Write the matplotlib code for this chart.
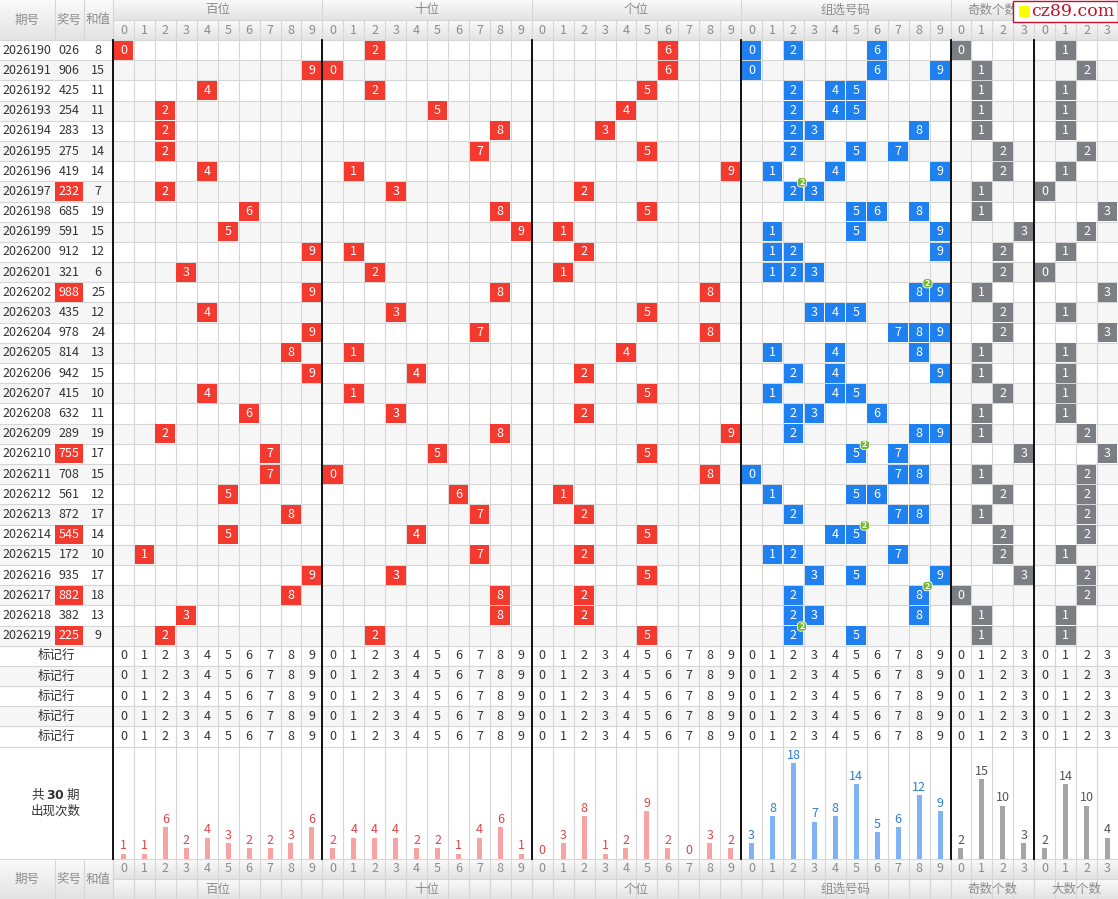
"""Trend chart of the last 30 draws (digit positions, group digits, odd/big counts)."""

import matplotlib
matplotlib.use('Agg')
from matplotlib import pyplot
from matplotlib.colors import LinearSegmentedColormap
from matplotlib.patches import Rectangle, FancyBboxPatch
import numpy

# Data.
periods = ['2026190', '2026191', '2026192', '2026193', '2026194', '2026195',
           '2026196', '2026197', '2026198', '2026199', '2026200', '2026201',
           '2026202', '2026203', '2026204', '2026205', '2026206', '2026207',
           '2026208', '2026209', '2026210', '2026211', '2026212', '2026213',
           '2026214', '2026215', '2026216', '2026217', '2026218', '2026219']
draws = ['026', '906', '425', '254', '283', '275', '419', '232', '685', '591',
         '912', '321', '988', '435', '978', '814', '942', '415', '632', '289',
         '755', '708', '561', '872', '545', '172', '935', '882', '382', '225']
sums = [8, 15, 11, 11, 13, 14, 14, 7, 19, 15, 12, 6, 25, 12, 24, 13, 15, 10,
        11, 19, 17, 15, 12, 17, 14, 10, 17, 18, 13, 9]

count_hundreds = [1, 1, 6, 2, 4, 3, 2, 2, 3, 6]
count_tens = [2, 4, 4, 4, 2, 2, 1, 4, 6, 1]
count_units = [0, 3, 8, 1, 2, 9, 2, 0, 3, 2]
count_group = [3, 8, 18, 7, 8, 14, 5, 6, 12, 9]
count_odd = [2, 15, 10, 3]
count_big = [2, 14, 10, 4]

group_names = ['百位', '十位', '个位', '组选号码', '奇数个数', '大数个数']
group_sizes = [10, 10, 10, 10, 4, 4]
n_marks = 5

# Layout (pixels).
W, H = 1118, 899
left_edges = [0, 54.5, 83.5, 113]
X0 = 113
CW = (W - X0) / 48
Y0 = 40
RH = 20.19
STATS_BOTTOM = 859
FOOT = 20
BAR_SCALE = 5.33

red = '#f4392e'
blue = '#1f80f0'
grey = '#7b7e82'
grid = '#d6d6d6'

pyplot.rcParams['font.family'] = ['Noto Sans CJK SC', 'DejaVu Sans']
fig = pyplot.figure(figsize=(W / 100, H / 100), dpi=100)
ax = fig.add_axes([0, 0, 1, 1])

group_start = numpy.cumsum([0] + group_sizes)


def cx(col):
    return X0 + col * CW


def row_top(i):
    return Y0 + i * RH


# Header and footer backgrounds (vertical gradients).
cmap = LinearSegmentedColormap.from_list('head', ['#fafafa', '#e3e3e3'])
grad = numpy.linspace(0, 1, 50)[:, None]
for (y1, y2) in [(0, 20), (20, 40), (0, 40)]:
    x1 = X0 if y2 - y1 == 20 else 0
    x2 = W if y2 - y1 == 20 else X0
    ax.imshow(grad, extent=(x1, x2, y2, y1), cmap=cmap, aspect='auto',
              zorder=0)
for (y1, y2) in [(STATS_BOTTOM, STATS_BOTTOM + FOOT),
                 (STATS_BOTTOM + FOOT, H)]:
    ax.imshow(grad, extent=(X0, W, y2, y1), cmap=cmap, aspect='auto',
              zorder=0)
ax.imshow(grad, extent=(0, X0, H, STATS_BOTTOM), cmap=cmap, aspect='auto',
          zorder=0)

# Alternate row shading.
n_rows = len(periods) + n_marks
for i in range(n_rows):
    if i % 2 == 1:
        ax.add_patch(Rectangle((0, row_top(i)), W, RH, color='#f6f6f6',
                               lw=0, zorder=0.5))

# Grid lines.
for i in range(n_rows + 1):
    ax.plot([0, W], [row_top(i)] * 2, color=grid, lw=0.8, zorder=1)
ax.plot([X0, W], [20, 20], color=grid, lw=0.8, zorder=1)
ax.plot([X0, W], [STATS_BOTTOM + FOOT] * 2, color=grid, lw=0.8, zorder=1)
ax.plot([0, W], [STATS_BOTTOM] * 2, color=grid, lw=0.8, zorder=1)
for c in range(48):
    ax.plot([cx(c)] * 2, [20, H], color=grid, lw=0.8, zorder=1)
for x in left_edges[1:]:
    ax.plot([x, x], [0, Y0], color=grid, lw=0.8, zorder=1)
    ax.plot([x, x], [STATS_BOTTOM, H], color=grid, lw=0.8, zorder=1)
for s in group_start[1:-1]:
    ax.plot([cx(s)] * 2, [0, 20], color=grid, lw=0.8, zorder=1)
    ax.plot([cx(s)] * 2, [STATS_BOTTOM + FOOT, H], color=grid, lw=0.8,
            zorder=1)
# Black separators between groups.
for s in group_start[:-1]:
    ax.plot([cx(s)] * 2, [Y0, STATS_BOTTOM], color='black', lw=1.3, zorder=3)

# Header and footer texts.
head_kw = dict(ha='center', va='center', fontsize=9, color='#8c8c8c', zorder=4)
for name, a, b in zip(['期号', '奖号', '和值'], left_edges[:-1], left_edges[1:]):
    ax.text((a + b) / 2, 20, name, **head_kw)
    ax.text((a + b) / 2, STATS_BOTTOM + FOOT, name, **head_kw)
for g, name in enumerate(group_names):
    xm = (cx(group_start[g]) + cx(group_start[g + 1])) / 2
    ax.text(xm, 10, name, **head_kw)
    ax.text(xm, STATS_BOTTOM + FOOT * 1.5, name, **head_kw)
    for d in range(group_sizes[g]):
        xc = cx(group_start[g] + d) + CW / 2
        ax.text(xc, 30, str(d), **head_kw)
        ax.text(xc, STATS_BOTTOM + FOOT / 2, str(d), **head_kw)


def mark(col, i, color, label):
    y = row_top(i)
    ax.add_patch(Rectangle((cx(col) + 0.6, y + 0.6), CW - 1.2, RH - 1.2,
                           color=color, lw=0, zorder=2))
    ax.text(cx(col) + CW / 2, y + RH / 2, label, ha='center', va='center',
            fontsize=9, color='white', zorder=4)


# Data rows.
for i, (period, draw, total) in enumerate(zip(periods, draws, sums)):
    yc = row_top(i) + RH / 2
    digits = [int(ch) for ch in draw]
    ax.text(27, yc, period, ha='center', va='center', fontsize=9,
            color='#333333', zorder=4)
    pair = len(set(digits)) < 3
    if pair:
        ax.add_patch(Rectangle((55, row_top(i) + 0.6), 28, RH - 1.2,
                               color=red, lw=0, zorder=2))
    ax.text(69, yc, draw, ha='center', va='center', fontsize=9,
            color='white' if pair else '#333333', zorder=4)
    ax.text(98, yc, str(total), ha='center', va='center', fontsize=9,
            color='#333333', zorder=4)
    for p, d in enumerate(digits):
        mark(group_start[p] + d, i, red, str(d))
    for d in sorted(set(digits)):
        mark(group_start[3] + d, i, blue, str(d))
        if digits.count(d) > 1:
            bx = cx(group_start[3] + d + 1) - 2
            by = row_top(i) + 1
            ax.add_patch(FancyBboxPatch((bx - 4, by - 4), 8, 8,
                                        boxstyle='round,pad=0.6,rounding_size=3',
                                        fc='#73b72b', ec='white', lw=0.6,
                                        zorder=5))
            ax.text(bx, by, str(digits.count(d)), ha='center', va='center',
                    fontsize=6.5, fontweight='bold', color='white', zorder=6)
    n_odd = sum(d % 2 for d in digits)
    n_big = sum(d >= 5 for d in digits)
    mark(group_start[4] + n_odd, i, grey, str(n_odd))
    mark(group_start[5] + n_big, i, grey, str(n_big))

# Marker rows.
for j in range(n_marks):
    i = len(periods) + j
    yc = row_top(i) + RH / 2
    ax.text(56, yc, '标记行', ha='center', va='center', fontsize=9,
            color='#333333', zorder=4)
    for g in range(len(group_sizes)):
        for d in range(group_sizes[g]):
            ax.text(cx(group_start[g] + d) + CW / 2, yc, str(d), ha='center',
                    va='center', fontsize=9, color='#333333', zorder=4)

# Occurrence statistics.
stats_top = row_top(n_rows)
ym = (stats_top + STATS_BOTTOM) / 2
ax.text(56, ym - 8, '共 $\\mathbf{30}$ 期', ha='center', va='center',
        fontsize=9, color='#333333', zorder=4)
ax.text(56, ym + 8, '出现次数', ha='center', va='center', fontsize=9,
        color='#333333', zorder=4)
stats = [(count_hundreds, '#f7a3a3', '#e04646'),
         (count_tens, '#f7a3a3', '#e04646'),
         (count_units, '#f7a3a3', '#e04646'),
         (count_group, '#7fb3f3', '#2f7fd6'),
         (count_odd, '#a5a5a5', '#555555'),
         (count_big, '#a5a5a5', '#555555')]
for g, (counts, bar_color, text_color) in enumerate(stats):
    xs = [cx(group_start[g] + d) + CW / 2 for d in range(len(counts))]
    heights = numpy.array(counts) * BAR_SCALE
    ax.bar(xs, -heights, bottom=STATS_BOTTOM, width=5, color=bar_color,
           zorder=2)
    for x, h, c in zip(xs, heights, counts):
        ax.text(x, STATS_BOTTOM - h - 8, str(c), ha='center', va='center',
                fontsize=9, color=text_color, zorder=4)

# Watermark.
ax.add_patch(Rectangle((1013, 0.5), 104.5, 21, fc='white', ec='#c8102e',
                       lw=1, zorder=7))
ax.add_patch(Rectangle((1019, 5.5), 11, 11, color='#ffff00', lw=0, zorder=8))
ax.text(1031, 11.5, 'cz89.com', ha='left', va='center', fontsize=12.5,
        family='DejaVu Serif', color='#c0102a', zorder=8)

ax.set_xlim(0, W)
ax.set_ylim(H, 0)
ax.axis('off')
fig.savefig('out.png', dpi=100)
